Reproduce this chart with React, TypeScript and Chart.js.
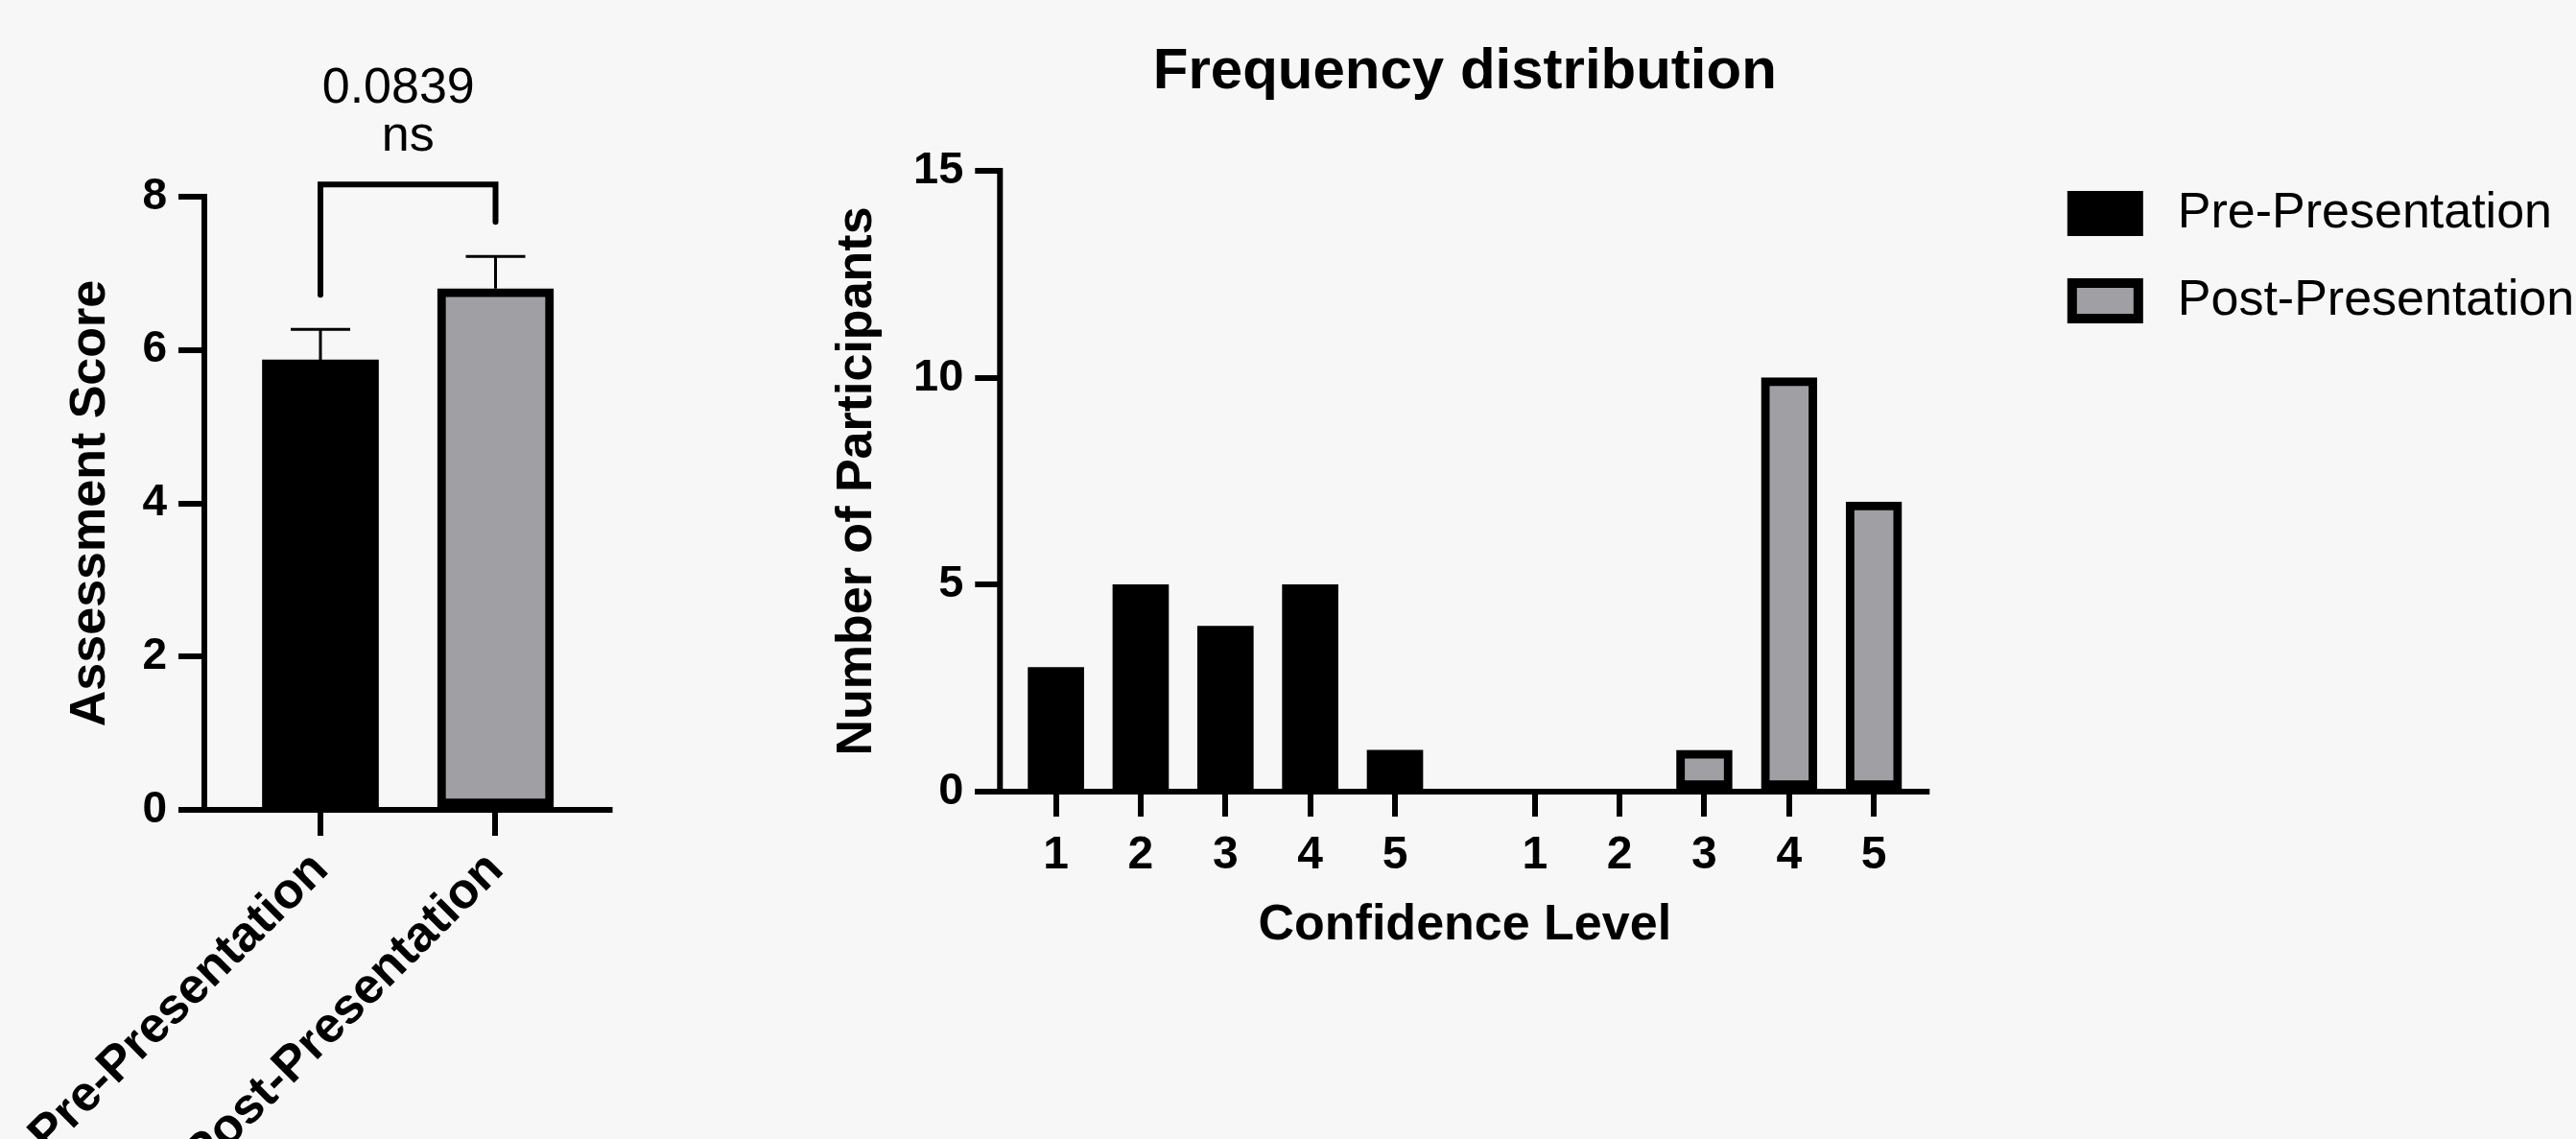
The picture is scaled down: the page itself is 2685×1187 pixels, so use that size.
import React, { useEffect, useRef } from 'react';
import { Chart, registerables } from 'chart.js';

Chart.register(...registerables);

const FONT = '"Liberation Sans", Arial, Helvetica, sans-serif';
const BLACK = '#000000';
const GREY = '#a09fa4';
const BG = '#f7f7f7';

// ---- Left chart: mean assessment score ----
const groups = ['Pre-Presentation', 'Post-Presentation'];
const groupPositions = [1, 2];
const means = [5.87, 6.8];
const sems = [0.4, 0.42];
const pValueText = '0.0839';
const significanceText = 'ns';
const bracketValue = 8.16;
const bracketGap = 0.45;

// ---- Right chart: frequency distribution ----
const confidenceLevels = [1, 2, 3, 4, 5];
const preCounts = [3, 5, 4, 5, 1];
const postCounts = [0, 0, 1, 10, 7];
const postGroupShift = 5.65;
const freqTickPositions = [...confidenceLevels, ...confidenceLevels.map((l) => l + postGroupShift)];
const freqTickLabels = [...confidenceLevels, ...confidenceLevels].map(String);

Chart.defaults.font.family = FONT;
Chart.defaults.color = BLACK;

const axisLinesPlugin = {
  id: 'axisLines',
  afterDraw(chart: any, _args: any, opts: any) {
    const { ctx, chartArea } = chart;
    const { left, right, top, bottom } = chartArea;
    const w = opts.width || 6;
    ctx.save();
    ctx.strokeStyle = BLACK;
    ctx.lineWidth = w;
    ctx.lineCap = 'butt';
    ctx.beginPath();
    ctx.moveTo(left, top - w / 2);
    ctx.lineTo(left, bottom + w / 2);
    ctx.moveTo(left - (opts.ext || 0), bottom);
    ctx.lineTo(right, bottom);
    ctx.stroke();
    ctx.restore();
  },
};

const errorBracketPlugin = {
  id: 'errorBracket',
  afterDatasetsDraw(chart: any) {
    const { ctx } = chart;
    const xs = chart.scales.x;
    const ys = chart.scales.y;
    ctx.save();
    ctx.strokeStyle = BLACK;
    ctx.lineWidth = 3;
    ctx.lineCap = 'butt';
    groupPositions.forEach((p, i) => {
      const x = xs.getPixelForValue(p);
      const y0 = ys.getPixelForValue(means[i]);
      const y1 = ys.getPixelForValue(means[i] + sems[i]);
      ctx.beginPath();
      ctx.moveTo(x, y0);
      ctx.lineTo(x, y1);
      ctx.moveTo(x - 31, y1);
      ctx.lineTo(x + 31, y1);
      ctx.stroke();
    });
    const xa = xs.getPixelForValue(groupPositions[0]);
    const xb = xs.getPixelForValue(groupPositions[1]);
    const yTop = ys.getPixelForValue(bracketValue);
    const ya = ys.getPixelForValue(means[0] + sems[0] + bracketGap);
    const yb = ys.getPixelForValue(means[1] + sems[1] + bracketGap);
    ctx.lineWidth = 6;
    ctx.lineCap = 'round';
    ctx.lineJoin = 'miter';
    ctx.beginPath();
    ctx.moveTo(xa, ya);
    ctx.lineTo(xa, yTop);
    ctx.lineTo(xb, yTop);
    ctx.lineTo(xb, yb);
    ctx.stroke();
    const xm = (xa + xb) / 2;
    ctx.fillStyle = BLACK;
    ctx.textAlign = 'center';
    ctx.textBaseline = 'alphabetic';
    ctx.font = `52px ${FONT}`;
    ctx.fillText(pValueText, xm - 10, yTop - 85);
    ctx.fillText(significanceText, xm, yTop - 35);
    ctx.restore();
  },
};

const sideLegendPlugin = {
  id: 'sideLegend',
  afterDraw(chart: any, _args: any, opts: any) {
    const { ctx, chartArea } = chart;
    const x = chartArea.right + opts.dx;
    const bw = 79;
    const bh = 47;
    ctx.save();
    chart.data.datasets.forEach((ds: any, i: number) => {
      const y = chartArea.top + opts.dy + i * opts.step;
      if (ds.borderWidth) {
        ctx.fillStyle = ds.borderColor;
        ctx.fillRect(x, y, bw, bh);
        ctx.fillStyle = ds.backgroundColor;
        ctx.fillRect(x + 10, y + 10, bw - 20, bh - 20);
      } else {
        ctx.fillStyle = ds.backgroundColor;
        ctx.fillRect(x, y, bw, bh);
      }
      ctx.fillStyle = BLACK;
      ctx.font = `52px ${FONT}`;
      ctx.textAlign = 'left';
      ctx.textBaseline = 'middle';
      ctx.fillText(ds.label, x + 115, y + bh / 2);
    });
    ctx.restore();
  },
};

export default function App() {
  const leftRef = useRef<HTMLCanvasElement>(null);
  const rightRef = useRef<HTMLCanvasElement>(null);

  useEffect(() => {
    const left = new Chart(leftRef.current as HTMLCanvasElement, {
      type: 'bar',
      data: {
        datasets: [
          {
            label: 'Assessment Score',
            data: groupPositions.map((x, i) => ({ x, y: means[i] })),
            backgroundColor: [BLACK, GREY],
            borderColor: BLACK,
            borderWidth: [0, 9],
            borderSkipped: false,
            barThickness: 121,
            grouped: false,
          } as any,
        ],
      },
      options: {
        responsive: false,
        animation: false,
        events: [],
        layout: { padding: { left: 0, top: 205, right: 211.5, bottom: 0 } },
        plugins: {
          legend: { display: false },
          tooltip: { enabled: false },
          axisLines: { width: 6, ext: 27 },
        } as any,
        scales: {
          x: {
            type: 'linear',
            min: 0.337,
            max: 2.6685,
            bounds: 'data',
            offset: false,
            grid: {
              display: true,
              drawOnChartArea: false,
              drawTicks: true,
              tickLength: 27,
              lineWidth: 6,
              color: BLACK,
              offset: false,
            },
            border: { display: false },
            ticks: {
              autoSkip: false,
              minRotation: 45,
              maxRotation: 45,
              padding: 5,
              labelOffset: 0,
              color: BLACK,
              font: { size: 52, weight: 'bold' },
              callback: (_v: any, i: number) => groups[i],
            },
            afterBuildTicks: (s: any) => {
              s.ticks = groupPositions.map((v) => ({ value: v }));
            },
            afterFit: (s: any) => {
              s.height = 343;
              s.paddingLeft = 0;
              s.paddingRight = 0;
            },
          } as any,
          y: {
            type: 'linear',
            min: 0,
            max: 8,
            ticks: { stepSize: 2, padding: 12, color: BLACK, font: { size: 46, weight: 'bold' } },
            grid: { drawOnChartArea: false, drawTicks: true, tickLength: 27, lineWidth: 6, color: BLACK },
            border: { display: false },
            title: {
              display: true,
              text: 'Assessment Score',
              color: BLACK,
              font: { size: 52, weight: 'bold' },
              padding: { top: 63, bottom: 0 },
            },
            afterFit: (s: any) => {
              s.width = 213;
            },
          } as any,
        },
      },
      plugins: [axisLinesPlugin, errorBracketPlugin],
    });

    const right = new Chart(rightRef.current as HTMLCanvasElement, {
      type: 'bar',
      data: {
        datasets: [
          {
            label: 'Pre-Presentation',
            data: confidenceLevels.map((l, i) => ({ x: l, y: preCounts[i] })),
            backgroundColor: BLACK,
            borderWidth: 0,
            barThickness: 58,
            grouped: false,
          } as any,
          {
            label: 'Post-Presentation',
            data: confidenceLevels.map((l, i) => ({ x: l + postGroupShift, y: postCounts[i] })),
            backgroundColor: GREY,
            borderColor: BLACK,
            borderWidth: 9,
            borderSkipped: false,
            barThickness: 58,
            grouped: false,
          } as any,
        ],
      },
      options: {
        responsive: false,
        animation: false,
        events: [],
        layout: { padding: { left: 0, top: 0, right: 673.7, bottom: 0 } },
        plugins: {
          legend: { display: false },
          tooltip: { enabled: false },
          title: {
            display: true,
            text: 'Frequency distribution',
            fullSize: false,
            color: BLACK,
            font: { size: 60, weight: 'bold' },
            padding: { top: 39, bottom: 67 },
          },
          axisLines: { width: 6, ext: 26 },
          sideLegend: { dx: 143.5, dy: 21, step: 91 },
        } as any,
        scales: {
          x: {
            type: 'linear',
            min: 0.34,
            max: 11.308,
            bounds: 'data',
            offset: false,
            grid: {
              display: true,
              drawOnChartArea: false,
              drawTicks: true,
              tickLength: 26,
              lineWidth: 6,
              color: BLACK,
              offset: false,
            },
            border: { display: false },
            ticks: {
              autoSkip: false,
              minRotation: 0,
              maxRotation: 0,
              padding: 12,
              color: BLACK,
              font: { size: 48, weight: 'bold' },
              callback: (_v: any, i: number) => freqTickLabels[i],
            },
            title: {
              display: true,
              text: 'Confidence Level',
              color: BLACK,
              font: { size: 52, weight: 'bold' },
              padding: { top: 0, bottom: 191 },
            },
            afterBuildTicks: (s: any) => {
              s.ticks = freqTickPositions.map((v) => ({ value: v }));
            },
            afterFit: (s: any) => {
              s.height = 362;
              s.paddingLeft = 0;
              s.paddingRight = 0;
            },
          } as any,
          y: {
            type: 'linear',
            min: 0,
            max: 15,
            ticks: { stepSize: 5, padding: 12, color: BLACK, font: { size: 47, weight: 'bold' } },
            grid: { drawOnChartArea: false, drawTicks: true, tickLength: 26, lineWidth: 6, color: BLACK },
            border: { display: false },
            title: {
              display: true,
              text: 'Number of Participants',
              color: BLACK,
              font: { size: 52, weight: 'bold' },
              padding: { top: 12, bottom: 0 },
            },
            afterFit: (s: any) => {
              s.width = 192.3;
            },
          } as any,
        },
      },
      plugins: [axisLinesPlugin, sideLegendPlugin],
    });

    return () => {
      left.destroy();
      right.destroy();
    };
  }, []);

  return (
    <div
      style={{
        position: 'fixed',
        left: 0,
        top: 0,
        width: 2685,
        height: 1187,
        background: BG,
        overflow: 'hidden',
      }}
    >
      <canvas
        ref={leftRef}
        width={850}
        height={1187}
        style={{ position: 'absolute', left: 0, top: 0, width: 850, height: 1187 }}
      />
      <canvas
        ref={rightRef}
        width={1835}
        height={1187}
        style={{ position: 'absolute', left: 850, top: 0, width: 1835, height: 1187 }}
      />
    </div>
  );
}
